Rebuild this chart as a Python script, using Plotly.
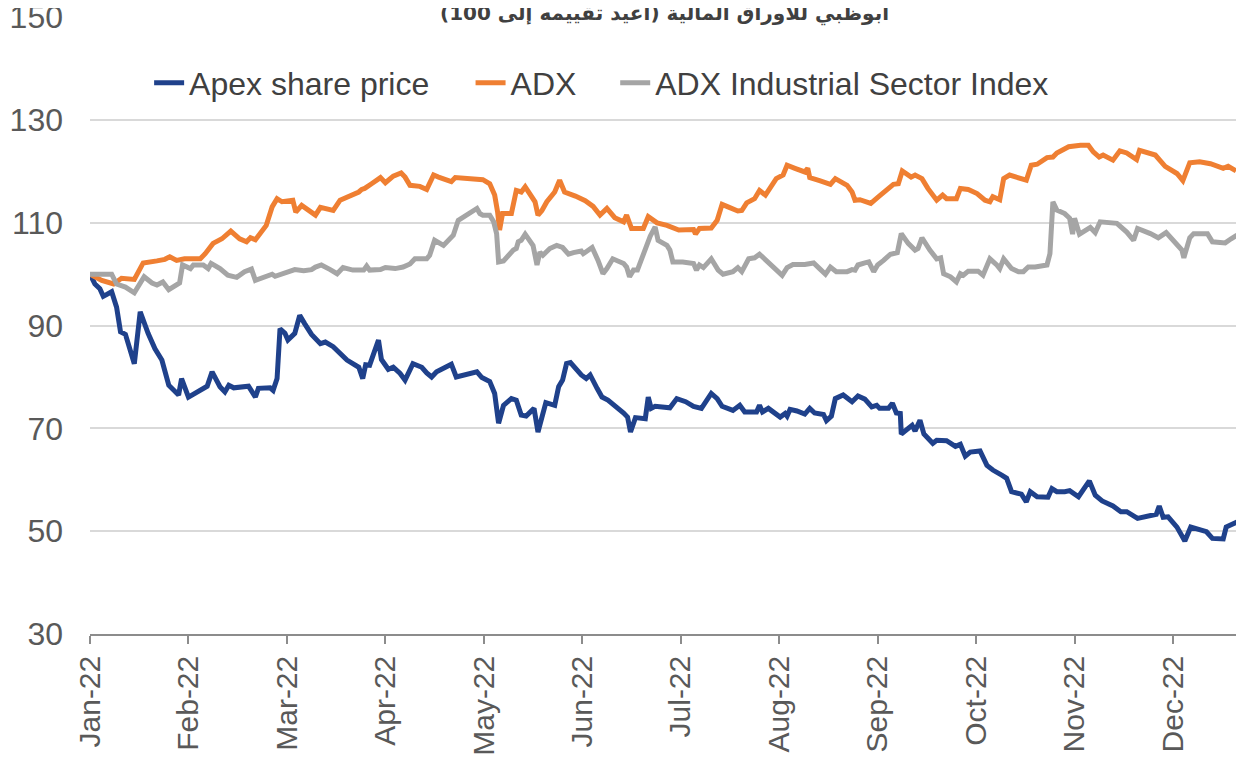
import plotly.graph_objects as go

# x positions are in months since 1 Jan 2022 (0 = Jan-22, 1 = Feb-22, ...)
month_ticks = [0, 1, 2, 3, 4, 5, 6, 7, 8, 9, 10, 11]
month_labels = ["Jan-22", "Feb-22", "Mar-22", "Apr-22", "May-22", "Jun-22",
                "Jul-22", "Aug-22", "Sep-22", "Oct-22", "Nov-22", "Dec-22"]

apex_m = [0.00, 0.05, 0.10, 0.135, 0.22, 0.27, 0.31, 0.36, 0.45, 0.51, 0.59, 0.66, 0.73, 0.80, 0.90, 0.93,
          1.00, 1.13, 1.19, 1.24, 1.32, 1.37, 1.41, 1.46, 1.61, 1.68, 1.71, 1.83, 1.86, 1.90, 1.93, 1.98,
          2.01, 2.08, 2.13, 2.18, 2.25, 2.34, 2.39, 2.47, 2.54, 2.61, 2.73, 2.77, 2.80, 2.84, 2.93, 2.96,
          3.03, 3.08, 3.15, 3.20, 3.28, 3.37, 3.42, 3.47, 3.52, 3.59, 3.67, 3.72, 3.83, 3.93, 3.98,
          4.06, 4.11, 4.15, 4.20, 4.28, 4.33, 4.38, 4.43, 4.51, 4.55, 4.59, 4.63, 4.72, 4.76, 4.80, 4.84,
          4.88, 4.93, 4.99, 5.04, 5.08, 5.15, 5.20, 5.26, 5.33, 5.42, 5.46, 5.49, 5.54, 5.64, 5.67, 5.70,
          5.74, 5.89, 5.96, 6.05, 6.13, 6.21, 6.31, 6.37, 6.42, 6.53, 6.60, 6.65, 6.77, 6.80, 6.83, 6.89,
          7.01, 7.06, 7.08, 7.11, 7.18, 7.26, 7.31, 7.36, 7.45, 7.48, 7.53, 7.57, 7.65, 7.74, 7.80, 7.87,
          7.94, 7.99, 8.02, 8.11, 8.15, 8.19, 8.23, 8.24, 8.35, 8.38, 8.43, 8.47, 8.56, 8.60, 8.70, 8.79,
          8.84, 8.89, 8.94, 9.04, 9.11, 9.17, 9.26, 9.31, 9.36, 9.46, 9.51, 9.55, 9.62, 9.73, 9.77, 9.82,
          9.90, 9.95, 10.04, 10.15, 10.21, 10.28, 10.39, 10.47, 10.53, 10.64, 10.83, 10.86, 10.90, 10.95,
          11.04, 11.12, 11.18, 11.31, 11.34, 11.40, 11.51, 11.54, 11.60, 11.65]
apex_v = [100.0, 98.1, 97.2, 95.7, 96.6, 93.6, 88.8, 88.3, 82.6, 92.7, 88.5, 85.5, 83.3, 78.4, 76.5, 79.7,
          76.1, 77.4, 78.2, 81.0, 78.1, 77.1, 78.4, 77.9, 78.2, 76.1, 77.8, 77.9, 77.4, 79.7, 89.4, 88.5,
          87.2, 88.5, 92.0, 90.4, 88.3, 86.5, 86.8, 85.9, 84.7, 83.3, 81.9, 79.7, 82.4, 82.3, 87.2, 83.4,
          81.5, 81.9, 80.7, 79.4, 82.6, 81.9, 80.8, 80.0, 81.0, 81.7, 82.5, 80.0, 80.5, 81.0, 79.9,
          79.1, 76.8, 71.0, 74.5, 75.8, 75.5, 72.6, 72.4, 73.9, 69.3, 71.9, 75.0, 74.5, 78.1, 79.4, 82.6,
          82.8, 81.7, 80.4, 79.7, 80.4, 77.8, 76.1, 75.5, 74.5, 73.0, 72.2, 69.3, 72.1, 71.9, 76.1, 73.9,
          74.3, 74.0, 75.8, 75.2, 74.3, 73.9, 76.8, 75.8, 74.3, 73.5, 74.5, 73.2, 73.2, 74.5, 73.2, 73.9,
          72.2, 72.9, 72.4, 73.7, 73.4, 72.8, 73.9, 73.0, 72.7, 71.5, 72.4, 75.8, 76.5, 75.2, 76.3, 75.7,
          74.2, 74.5, 73.9, 73.9, 74.9, 73.0, 72.9, 68.9, 70.6, 69.5, 71.6, 68.9, 67.1, 67.7, 67.6, 66.5,
          66.9, 64.6, 65.4, 65.6, 62.8, 61.9, 60.9, 60.3, 57.7, 57.2, 55.7, 57.7, 56.7, 56.6, 58.3, 57.7,
          57.7, 57.9, 56.7, 59.8, 57.0, 55.9, 54.9, 53.8, 53.8, 52.5, 53.3, 54.9, 52.7, 52.8,
          50.8, 48.1, 50.8, 49.9, 49.9, 48.6, 48.5, 50.8, 51.3, 51.8]

adx_m = [0.00, 0.12, 0.24, 0.32, 0.45, 0.54, 0.68, 0.76, 0.81, 0.88, 0.96, 1.12, 1.17, 1.25, 1.34, 1.43,
         1.52, 1.59, 1.63, 1.68, 1.79, 1.85, 1.90, 1.95, 2.06, 2.09, 2.15, 2.22, 2.29, 2.34, 2.47, 2.54,
         2.64, 2.73, 2.76, 2.79, 2.86, 2.95, 3.00, 3.08, 3.16, 3.20, 3.25, 3.35, 3.42, 3.49, 3.54, 3.62,
         3.67, 3.71, 3.96, 3.99, 4.06, 4.11, 4.14, 4.16, 4.19, 4.28, 4.33, 4.38, 4.42, 4.49, 4.52, 4.55,
         4.59, 4.64, 4.72, 4.77, 4.82, 4.93, 5.03, 5.11, 5.18, 5.25, 5.33, 5.42, 5.45, 5.50, 5.62, 5.67,
         5.76, 5.86, 5.98, 6.13, 6.15, 6.19, 6.31, 6.37, 6.42, 6.48, 6.58, 6.62, 6.67, 6.75, 6.80, 6.86,
         6.91, 6.97, 7.04, 7.08, 7.16, 7.26, 7.29, 7.31, 7.41, 7.52, 7.57, 7.69, 7.74, 7.77, 7.82, 7.93,
         8.01, 8.09, 8.16, 8.21, 8.25, 8.34, 8.38, 8.45, 8.51, 8.60, 8.66, 8.70, 8.80, 8.84, 8.92, 9.01,
         9.09, 9.14, 9.17, 9.24, 9.28, 9.34, 9.51, 9.56, 9.62, 9.72, 9.78, 9.82, 9.94, 10.06, 10.14,
         10.19, 10.25, 10.29, 10.39, 10.46, 10.53, 10.63, 10.66, 10.82, 10.92, 11.04, 11.10, 11.17, 11.27,
         11.38, 11.51, 11.56, 11.64]
adx_v = [100.0, 98.8, 98.1, 99.2, 99.0, 102.2, 102.6, 102.9, 103.4, 102.7, 103.0, 103.0, 104.0, 106.0, 106.9, 108.4,
         106.9, 106.3, 107.1, 106.7, 109.5, 113.1, 114.7, 114.1, 114.4, 112.1, 113.4, 112.4, 111.5, 113.0, 112.4, 114.4,
         115.2, 116.0, 116.5, 116.7, 117.6, 118.8, 117.8, 119.1, 119.7, 118.9, 117.3, 117.1, 116.5, 119.3, 118.9, 118.3,
         118.0, 118.8, 118.6, 118.4, 117.6, 115.4, 112.1, 108.6, 111.8, 111.8, 116.3, 116.0, 117.0, 115.0, 114.1, 111.5,
         112.4, 114.1, 116.0, 118.3, 116.0, 115.2, 114.3, 113.2, 111.5, 112.8, 111.0, 110.2, 111.5, 108.9, 108.9, 111.2,
         110.0, 109.5, 108.6, 108.7, 107.8, 108.9, 109.0, 110.5, 113.6, 113.1, 112.3, 112.4, 113.9, 114.7, 116.3, 115.4,
         117.0, 118.6, 119.3, 121.2, 120.6, 119.9, 120.6, 118.8, 118.2, 117.5, 118.6, 117.3, 116.0, 114.4, 114.5, 113.8,
         115.1, 116.3, 117.5, 117.6, 120.1, 118.9, 119.3, 118.6, 116.7, 114.4, 115.4, 114.7, 114.7, 116.7, 116.5, 115.7,
         114.4, 114.1, 115.1, 114.5, 118.6, 119.3, 118.3, 121.2, 121.4, 122.7, 122.8, 123.6, 124.8, 125.1, 125.1,
         123.8, 122.8, 123.2, 122.2, 124.0, 123.6, 122.3, 124.1, 123.2, 121.0, 119.6, 118.2, 121.7, 121.9,
         121.5, 120.6, 121.0, 120.1]

ind_m = [0.00, 0.22, 0.27, 0.36, 0.45, 0.55, 0.63, 0.68, 0.74, 0.80, 0.91, 0.94, 1.02, 1.05, 1.15, 1.20,
         1.23, 1.32, 1.40, 1.49, 1.57, 1.64, 1.68, 1.78, 1.85, 1.88, 1.98, 2.08, 2.17, 2.25, 2.29, 2.35,
         2.44, 2.51, 2.57, 2.67, 2.78, 2.81, 2.84, 2.95, 3.00, 3.10, 3.18, 3.25, 3.30, 3.42, 3.45, 3.50,
         3.59, 3.66, 3.69, 3.74, 3.83, 3.93, 3.96, 3.99, 4.06, 4.10, 4.13, 4.15, 4.20, 4.25, 4.30, 4.33,
         4.35, 4.38, 4.42, 4.50, 4.54, 4.57, 4.60, 4.67, 4.74, 4.80, 4.86, 4.91, 4.99, 5.01, 5.10, 5.16,
         5.21, 5.25, 5.31, 5.42, 5.45, 5.48, 5.52, 5.56, 5.60, 5.65, 5.69, 5.74, 5.77, 5.86, 5.89, 5.92,
         6.02, 6.13, 6.16, 6.19, 6.23, 6.31, 6.38, 6.43, 6.53, 6.58, 6.62, 6.69, 6.75, 6.80, 6.91, 7.03,
         7.08, 7.14, 7.26, 7.35, 7.41, 7.47, 7.52, 7.58, 7.69, 7.74, 7.77, 7.80, 7.87, 7.91, 7.96, 8.00,
         8.06, 8.13, 8.20, 8.24, 8.31, 8.38, 8.41, 8.45, 8.53, 8.60, 8.64, 8.67, 8.74, 8.80, 8.84, 8.87,
         8.92, 9.02, 9.07, 9.14, 9.21, 9.24, 9.28, 9.36, 9.43, 9.48, 9.53, 9.60, 9.72, 9.75, 9.78, 9.82,
         9.90, 9.95, 9.98, 10.00, 10.05, 10.12, 10.16, 10.21, 10.26, 10.43, 10.53, 10.60, 10.64, 10.77,
         10.85, 10.93, 11.05, 11.09, 11.11, 11.17, 11.21, 11.35, 11.40, 11.53, 11.59, 11.65]
ind_v = [100.0, 100.0, 98.1, 97.5, 96.4, 99.5, 98.3, 97.9, 98.5, 97.0, 98.3, 101.8, 101.1, 101.8, 101.8, 101.1,
         102.1, 101.1, 99.8, 99.4, 100.5, 101.0, 98.8, 99.6, 100.0, 99.6, 100.3, 100.9, 100.7, 100.9, 101.4, 101.8,
         100.9, 100.1, 101.3, 100.8, 100.8, 101.6, 100.8, 100.9, 101.3, 101.1, 101.4, 102.0, 103.0, 103.0, 103.7, 106.6,
         105.6, 106.9, 107.6, 110.5, 111.5, 112.8, 111.8, 111.5, 111.5, 110.2, 107.9, 102.4, 102.6, 103.7, 104.7, 105.0,
         106.3, 106.6, 107.8, 105.6, 101.8, 104.3, 103.7, 105.0, 105.6, 105.2, 103.9, 104.2, 104.5, 104.0, 105.2, 102.7,
         100.1, 101.1, 103.0, 102.1, 101.4, 99.5, 100.8, 100.8, 103.0, 105.9, 107.4, 109.2, 106.6, 105.6, 104.7, 102.4,
         102.4, 102.1, 100.8, 101.8, 101.3, 103.0, 100.8, 100.0, 100.5, 101.3, 100.5, 103.0, 103.2, 103.9, 101.8, 99.8,
         101.3, 101.9, 101.9, 102.2, 101.1, 100.0, 101.4, 100.5, 100.5, 100.9, 100.8, 101.8, 102.2, 102.4, 100.5, 101.8,
         102.7, 103.9, 104.2, 107.9, 106.0, 104.7, 105.0, 107.1, 104.7, 103.0, 103.2, 100.1, 99.5, 98.5, 100.1, 99.8,
         100.6, 100.6, 99.8, 103.0, 101.8, 101.1, 103.0, 101.1, 100.5, 100.5, 101.4, 101.4, 101.8, 104.0, 114.1, 112.5,
         111.8, 110.9, 107.8, 110.9, 107.8, 108.7, 109.1, 108.1, 110.2, 109.9, 108.2, 106.6, 108.9, 107.9,
         107.1, 108.1, 105.6, 104.7, 103.2, 107.1, 107.9, 107.9, 106.3, 106.1, 106.9, 107.6]

y_ticks = [30, 50, 70, 90, 110, 130, 150]
title_text = "ابوظبي للاوراق المالية (أعيد تقييمه إلى 100)"

font_family = "Liberation Sans, Arial, sans-serif"

fig = go.Figure()
fig.add_trace(go.Scatter(x=apex_m, y=apex_v, mode="lines", name="Apex share price",
                         line=dict(color="#1f418b", width=5), legend="legend"))
fig.add_trace(go.Scatter(x=adx_m, y=adx_v, mode="lines", name="ADX",
                         line=dict(color="#ef7f32", width=5), legend="legend2"))
fig.add_trace(go.Scatter(x=ind_m, y=ind_v, mode="lines", name="ADX Industrial Sector Index",
                         line=dict(color="#a5a5a5", width=5), legend="legend3"))

legend_common = dict(orientation="h", xanchor="left", y=0.893, yanchor="middle",
                     font=dict(size=32, color="#404040", family=font_family),
                     bgcolor="rgba(0,0,0,0)")

fig.update_layout(
    width=1244, height=763,
    margin=dict(l=82, r=14, t=9, b=137, autoexpand=False),
    paper_bgcolor="white", plot_bgcolor="white",
    font=dict(family=font_family, color="#595959", size=30),
    showlegend=True,
    legend=dict(x=0.0515, **legend_common),
    legend2=dict(x=0.3315, **legend_common),
    legend3=dict(x=0.4575, **legend_common),
    annotations=[dict(text="<b>" + title_text + "</b>", xref="paper", yref="paper",
                      x=0.5, y=1.008, xanchor="center", yanchor="middle", showarrow=False,
                      font=dict(size=20, color="#404040", family="DejaVu Sans, sans-serif"))],
)
fig.update_xaxes(range=[0, 11.66], tickmode="array", tickvals=month_ticks, ticktext=month_labels,
                 tickangle=-90, showgrid=False, zeroline=False, automargin=False,
                 showline=True, linecolor="#8c8c8c", linewidth=1.5,
                 ticks="outside", ticklen=8, tickcolor="#8c8c8c", tickwidth=1.5,
                 ticklabeloverflow="allow",
                 tickfont=dict(size=30, color="#595959"))
fig.update_yaxes(range=[30, 150.05], tickmode="array", tickvals=y_ticks, automargin=False,
                 showgrid=True, gridcolor="#d9d9d9", gridwidth=2, zeroline=False,
                 showline=False, ticks="", ticklabelstandoff=26, ticklabeloverflow="allow",
                 tickfont=dict(size=32, color="#595959"))

fig.write_html("out.html")
